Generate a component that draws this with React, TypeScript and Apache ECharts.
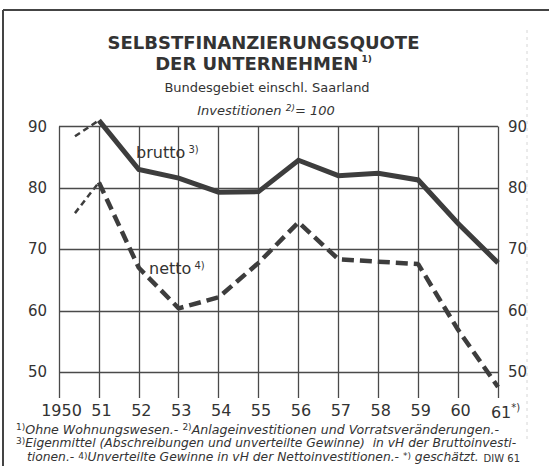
import React, { useEffect, useRef } from "react";
import * as echarts from "echarts";

// ---- data ----
const years = [1951, 1952, 1953, 1954, 1955, 1956, 1957, 1958, 1959, 1960, 1961];
const brutto = [91.0, 83.0, 81.6, 79.3, 79.4, 84.5, 82.0, 82.4, 81.3, 74.2, 67.8];
const netto = [80.9, 67.0, 60.4, 62.2, 67.8, 74.4, 68.4, 68.0, 67.6, 56.9, 47.6];
// short thin dashed lead-in segments (1950/51)
const leadYears = [1950.4, 1951];
const bruttoLead = [88.4, 91.0];
const nettoLead = [75.9, 80.9];
// axes
const xMin = 1950;
const xMax = 1961;
const yMin = 45.8;
const yMax = 90;
const yTicks = [50, 60, 70, 80, 90];

const FONT = "DejaVu Sans";
const INK = "#333333";
const LINE = "#3d3d3d";
const GRID = "#4a4a4a";

export default function App() {
  const ref = useRef<HTMLDivElement>(null);

  useEffect(() => {
    if (!ref.current) return;
    const chart = echarts.init(ref.current, undefined, { renderer: "svg" });

    const supRich = {
      s: { fontSize: 9, fontFamily: FONT, verticalAlign: "top", lineHeight: 9, fill: INK, fontStyle: "normal" },
    };

    const option: any = {
      animation: false,
      backgroundColor: "#ffffff",
      grid: { left: 59, right: 51, top: 126.5, bottom: 68, outerBoundsMode: "none", containLabel: false },
      xAxis: {
        type: "value",
        min: xMin,
        max: xMax,
        interval: 1,
        axisLine: { show: false },
        axisTick: { show: false },
        splitLine: { show: true, lineStyle: { color: GRID, width: 1.3, type: "solid" } },
        axisLabel: {
          color: INK,
          fontFamily: FONT,
          fontSize: 16,
          margin: 4,
          padding: [0, 0, 0, 5],
          formatter: (v: number) => {
            if (v === 1950) return "1950";
            if (v === 1961) return "{n|61}{sup|*)}";
            return String(v).slice(2);
          },
          rich: {
            n: { fontSize: 16, fontFamily: FONT, color: INK, lineHeight: 20, padding: [0, 0, 0, 10] },
            sup: { fontSize: 10, fontFamily: FONT, color: INK, verticalAlign: "top", lineHeight: 10 },
          },
        },
      },
      yAxis: [
        {
          type: "value",
          min: yMin,
          max: yMax,
          position: "left",
          axisLine: { show: false },
          axisTick: { show: false },
          splitLine: { show: false },
          axisLabel: {
            customValues: yTicks,
            color: INK,
            fontFamily: FONT,
            fontSize: 15,
            margin: 12,
          },
        },
        {
          type: "value",
          min: yMin,
          max: yMax,
          position: "right",
          axisLine: { show: false },
          axisTick: { show: false },
          splitLine: { show: false },
          axisLabel: {
            customValues: yTicks,
            color: INK,
            fontFamily: FONT,
            fontSize: 15,
            margin: 10,
            padding: [0, 0, 6, 0],
          },
        },
      ],
      series: [
        {
          type: "line",
          name: "grid",
          data: [],
          silent: true,
          z: 1,
          markLine: {
            silent: true,
            symbol: "none",
            label: { show: false },
            lineStyle: { color: GRID, width: 1.3, type: "solid" },
            data: yTicks.map((v) => ({ yAxis: v })),
          },
        },
        {
          type: "line",
          name: "brutto",
          data: years.map((y, i) => [y, brutto[i]]),
          showSymbol: false,
          symbol: "none",
          clip: false,
          lineStyle: { color: LINE, width: 5, join: "miter" },
          z: 5,
        },
        {
          type: "line",
          name: "netto",
          data: years.map((y, i) => [y, netto[i]]),
          showSymbol: false,
          symbol: "none",
          clip: false,
          lineStyle: { color: LINE, width: 4.5, type: [12, 6] },
          z: 5,
        },
        {
          type: "line",
          name: "brutto lead",
          data: leadYears.map((y, i) => [y, bruttoLead[i]]),
          showSymbol: false,
          symbol: "none",
          clip: false,
          lineStyle: { color: LINE, width: 2.5, type: [6, 4] },
          z: 4,
        },
        {
          type: "line",
          name: "netto lead",
          data: leadYears.map((y, i) => [y, nettoLead[i]]),
          showSymbol: false,
          symbol: "none",
          clip: false,
          lineStyle: { color: LINE, width: 2.5, type: [6, 4] },
          z: 4,
        },
      ],
      graphic: [
        // frame
        { type: "line", shape: { x1: 3, y1: 10, x2: 549, y2: 10 }, style: { stroke: "#444", lineWidth: 2 } },
        { type: "line", shape: { x1: 3, y1: 10, x2: 3, y2: 466 }, style: { stroke: "#444", lineWidth: 2 } },
        { type: "line", shape: { x1: 527, y1: 30, x2: 527, y2: 440 }, style: { stroke: "#d6d6d6", lineWidth: 1, lineDash: [3, 4] } },
        // titles
        {
          type: "text",
          style: { text: "SELBSTFINANZIERUNGSQUOTE", x: 263.5, y: 42, align: "center", verticalAlign: "middle", fontFamily: FONT, fontWeight: "bold", fontSize: 18, fill: INK },
        },
        {
          type: "text",
          style: {
            text: "DER UNTERNEHMEN{t| 1)}",
            x: 263.5, y: 63, align: "center", verticalAlign: "middle", fontFamily: FONT, fontWeight: "bold", fontSize: 18, fill: INK,
            rich: { t: { fontSize: 9, fontFamily: FONT, fontWeight: "bold", verticalAlign: "top", lineHeight: 9, fill: INK } },
          },
        },
        {
          type: "text",
          style: { text: "Bundesgebiet einschl. Saarland", x: 267, y: 87, align: "center", verticalAlign: "middle", fontFamily: FONT, fontSize: 13, fill: INK },
        },
        {
          type: "text",
          style: {
            text: "Investitionen {s|2)}= 100",
            x: 266, y: 110, align: "center", verticalAlign: "middle", fontFamily: FONT, fontStyle: "italic", fontSize: 13, fill: INK,
            rich: { s: { fontSize: 9, fontFamily: FONT, fontStyle: "italic", verticalAlign: "top", lineHeight: 9, fill: INK } },
          },
        },
        // series labels
        {
          type: "text",
          style: {
            text: "brutto{s| 3)}", x: 136, y: 152, align: "left", verticalAlign: "middle", fontFamily: FONT, fontSize: 16, fill: INK,
            rich: { s: { fontSize: 10, fontFamily: FONT, verticalAlign: "top", lineHeight: 10, fill: INK } },
          },
          z: 10,
        },
        {
          type: "text",
          style: {
            text: "netto{s| 4)}", x: 149, y: 268, align: "left", verticalAlign: "middle", fontFamily: FONT, fontSize: 16, fill: INK,
            rich: { s: { fontSize: 10, fontFamily: FONT, verticalAlign: "top", lineHeight: 10, fill: INK } },
          },
          z: 10,
        },
        // footnotes
        {
          type: "text",
          style: {
            text: "{s|1)}Ohne Wohnungswesen.- {s|2)}Anlageinvestitionen und Vorratsveränderungen.-",
            x: 16, y: 429, align: "left", verticalAlign: "middle", fontFamily: FONT, fontStyle: "italic", fontSize: 12.6, fill: INK,
            rich: supRich,
          },
        },
        {
          type: "text",
          style: {
            text: "{s|3)}Eigenmittel (Abschreibungen und unverteilte Gewinne)  in vH der Bruttoinvesti-",
            x: 16, y: 442.5, align: "left", verticalAlign: "middle", fontFamily: FONT, fontStyle: "italic", fontSize: 12.3, fill: INK,
            rich: supRich,
          },
        },
        {
          type: "text",
          style: {
            text: "tionen.- {s|4)}Unverteilte Gewinne in vH der Nettoinvestitionen.- {s|*)} geschätzt.",
            x: 27, y: 457, align: "left", verticalAlign: "middle", fontFamily: FONT, fontStyle: "italic", fontSize: 12.3, fill: INK,
            rich: supRich,
          },
        },
        {
          type: "text",
          style: { text: "DIW 61", x: 520, y: 458, align: "right", verticalAlign: "middle", fontFamily: FONT, fontSize: 10, fill: INK },
        },
      ],
    };

    chart.setOption(option);
    return () => chart.dispose();
  }, []);

  return <div ref={ref} style={{ position: "fixed", left: 0, top: 0, width: 549, height: 466 }} />;
}
